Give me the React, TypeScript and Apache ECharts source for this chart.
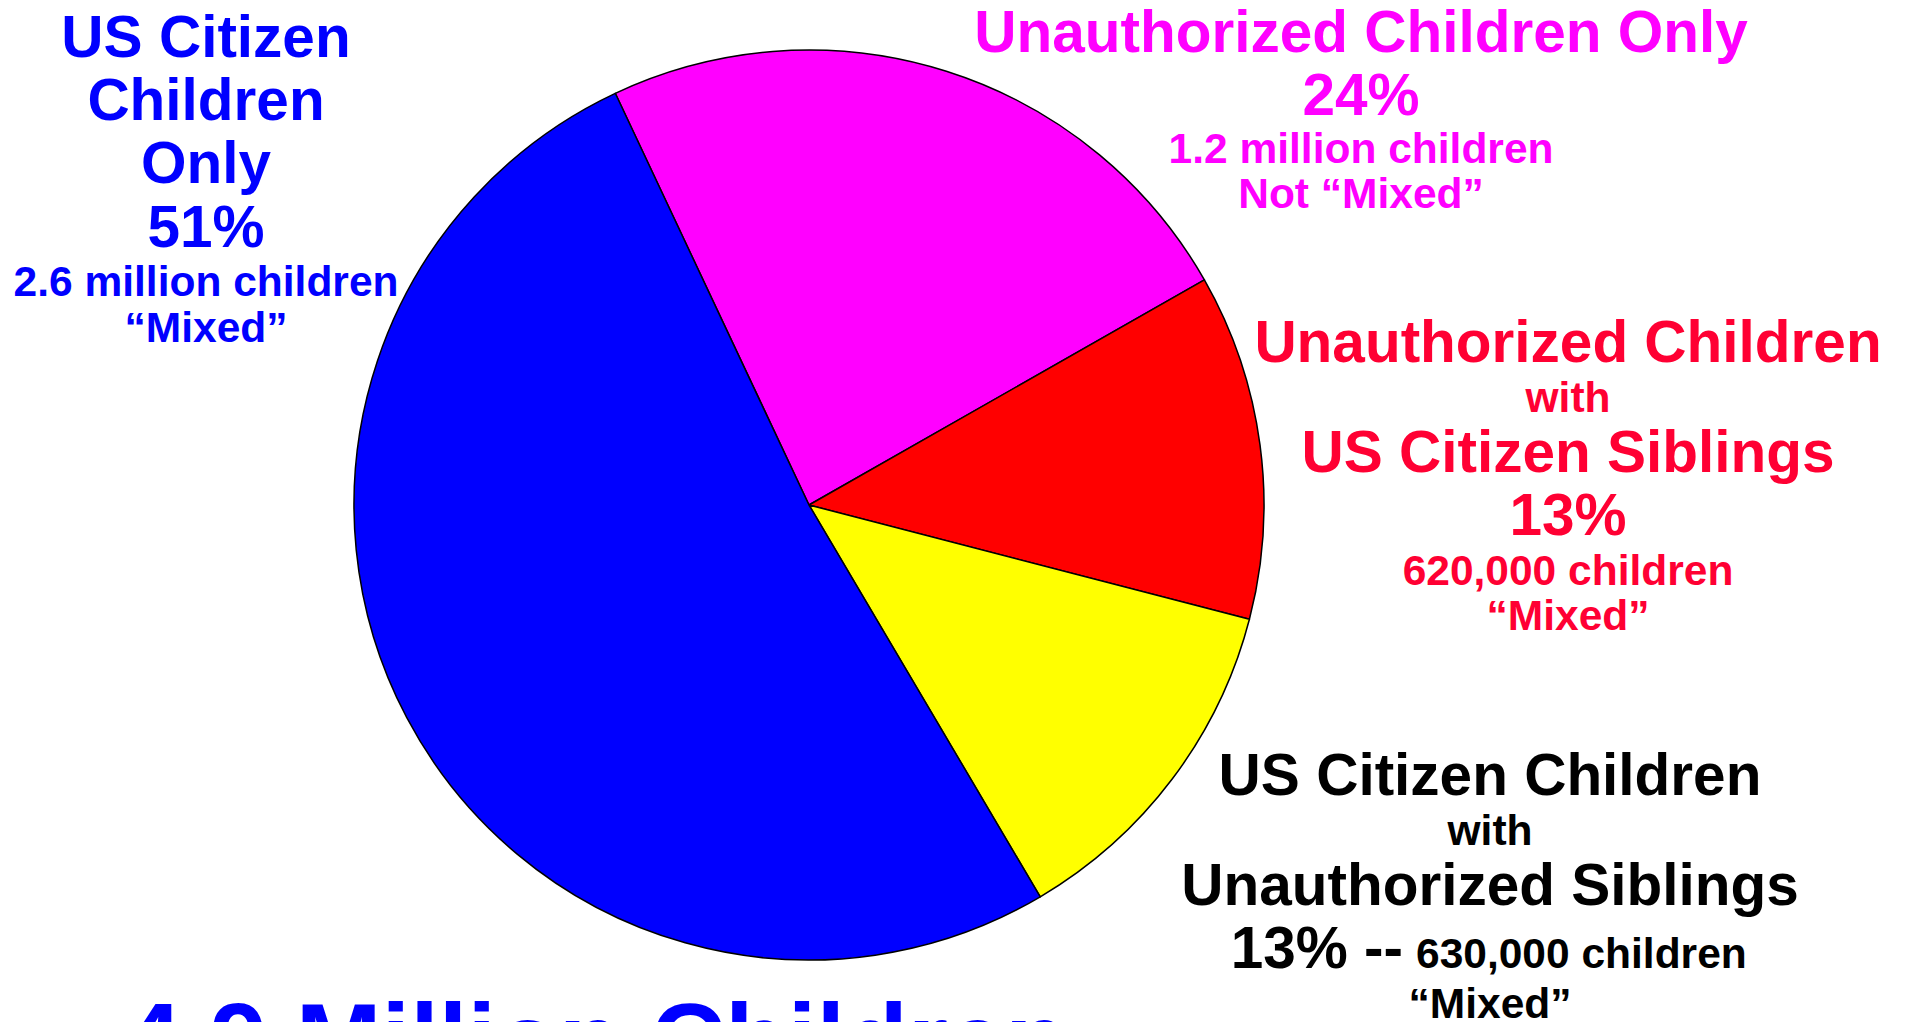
import React, { useEffect, useRef } from "react";
import * as echarts from "echarts";

// ---- data ----
const categories = [
  "Unauthorized Children Only",
  "Unauthorized Children with US Citizen Siblings",
  "US Citizen Children with Unauthorized Siblings",
  "US Citizen Children Only",
];
const childCounts = [1200000, 620000, 630000, 2600000];
const percentLabels = ["24%", "13%", "13%", "51%"];
const countLabels = ["1.2 million children", "620,000 children", "630,000 children", "2.6 million children"];
const mixedLabels = ["Not \u201cMixed\u201d", "\u201cMixed\u201d", "\u201cMixed\u201d", "\u201cMixed\u201d"];
const headingLines = [
  ["Unauthorized Children Only"],
  ["Unauthorized Children", "with", "US Citizen Siblings"],
  ["US Citizen Children", "with", "Unauthorized Siblings"],
  ["US Citizen", "Children", "Only"],
];
const totalLabel = "4.9 Million Children";
const sliceColors = ["#FF00FF", "#FF0000", "#FFFF00", "#0000FF"];
const textColors = ["#FF00FF", "#FF0033", "#000000", "#0000FF"];

const FONT = '"Liberation Sans", Arial, Helvetica, sans-serif';
const BIG = 58.5;
const SMALL = 42.5;

function txt(text: string, x: number, baseline: number, size: number, color: string, align = "center") {
  return {
    type: "text",
    x,
    y: baseline - 0.35 * size,
    silent: true,
    style: {
      text,
      fill: color,
      font: `bold ${size}px ${FONT}`,
      textAlign: align,
      textVerticalAlign: "middle",
    },
  };
}

function buildGraphics() {
  const g: any[] = [];
  // magenta block
  {
    const c = textColors[0];
    const x = 1361;
    g.push(txt(headingLines[0][0], x, 52, BIG, c));
    g.push(txt(percentLabels[0], x, 115, BIG, c));
    g.push(txt(countLabels[0], x, 163, SMALL, c));
    g.push(txt(mixedLabels[0], x, 208, SMALL, c));
  }
  // red block
  {
    const c = textColors[1];
    const x = 1568;
    g.push(txt(headingLines[1][0], x, 362, BIG, c));
    g.push(txt(headingLines[1][1], x, 412, SMALL, c));
    g.push(txt(headingLines[1][2], x, 472, BIG, c));
    g.push(txt(percentLabels[1], x, 535, BIG, c));
    g.push(txt(countLabels[1], x, 585, SMALL, c));
    g.push(txt(mixedLabels[1], x, 630, SMALL, c));
  }
  // black block
  {
    const c = textColors[2];
    const x = 1490;
    g.push(txt(headingLines[2][0], x, 795, BIG, c));
    g.push(txt(headingLines[2][1], x, 845, SMALL, c));
    g.push(txt(headingLines[2][2], x, 905, BIG, c));
    g.push(txt(percentLabels[2] + " --", 1403, 968, BIG, c, "right"));
    g.push(txt(countLabels[2], 1416, 968, SMALL, c, "left"));
    g.push(txt(mixedLabels[2], x, 1018, SMALL, c));
  }
  // blue block
  {
    const c = textColors[3];
    const x = 206;
    g.push(txt(headingLines[3][0], x, 57, BIG, c));
    g.push(txt(headingLines[3][1], x, 120, BIG, c));
    g.push(txt(headingLines[3][2], x, 183, BIG, c));
    g.push(txt(percentLabels[3], x, 247, BIG, c));
    g.push(txt(countLabels[3], x, 296, SMALL, c));
    g.push(txt(mixedLabels[3], x, 342, SMALL, c));
  }
  // bottom total (cut off by page edge, as in the original)
  g.push(txt(totalLabel, 124, 1077, 103, textColors[3], "left"));
  return g;
}

export default function App() {
  const ref = useRef<HTMLDivElement>(null);
  useEffect(() => {
    document.body.style.margin = "0";
    document.body.style.overflow = "hidden";
    if (!ref.current) return;
    const chart = echarts.init(ref.current, undefined, { renderer: "svg" });
    chart.setOption({
      animation: false,
      backgroundColor: "#ffffff",
      series: [
        {
          type: "pie",
          center: [809, 505],
          radius: 455,
          startAngle: 115.2,
          clockwise: true,
          label: { show: false },
          labelLine: { show: false },
          emphasis: { disabled: true },
          itemStyle: { borderColor: "#000000", borderWidth: 1.5 },
          data: categories.map((name, i) => ({
            name,
            value: childCounts[i],
            itemStyle: { color: sliceColors[i] },
          })),
        },
      ],
      graphic: buildGraphics(),
    });
    return () => chart.dispose();
  }, []);
  return <div ref={ref} style={{ width: 1916, height: 1022, overflow: "hidden" }} />;
}
